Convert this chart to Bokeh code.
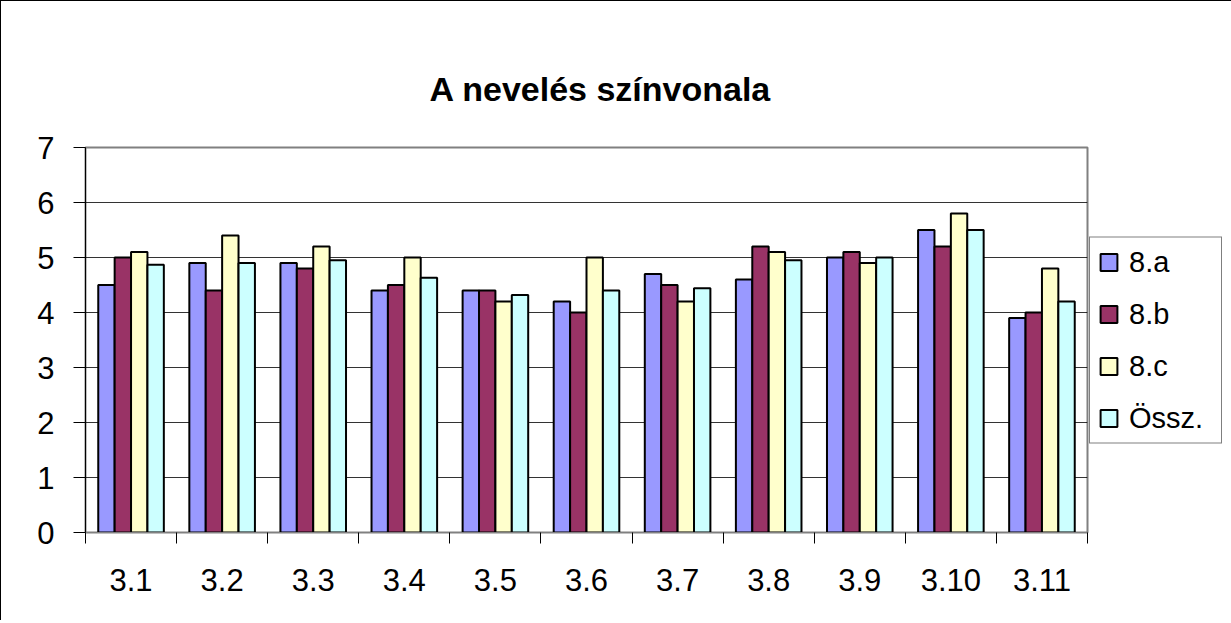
from bokeh.plotting import figure
from bokeh.models import (ColumnDataSource, FixedTicker, Legend, LegendItem, Range1d, Title)
from bokeh.embed import file_html
from bokeh.resources import INLINE

categories = ["3.1", "3.2", "3.3", "3.4", "3.5", "3.6", "3.7", "3.8", "3.9", "3.10", "3.11"]
series_names = ["8.a", "8.b", "8.c", "Össz."]
v_8a = [4.5, 4.9, 4.9, 4.4, 4.4, 4.2, 4.7, 4.6, 5.0, 5.5, 3.9]
v_8b = [5.0, 4.4, 4.8, 4.5, 4.4, 4.0, 4.5, 5.2, 5.1, 5.2, 4.0]
v_8c = [5.1, 5.4, 5.2, 5.0, 4.2, 5.0, 4.2, 5.1, 4.9, 5.8, 4.8]
v_ossz = [4.87, 4.9, 4.95, 4.63, 4.32, 4.4, 4.44, 4.95, 5.0, 5.5, 4.2]
y_ticks = [0, 1, 2, 3, 4, 5, 6, 7]

colors = ["#9999FF", "#993366", "#FFFFCC", "#CCFFFF"]
series = [v_8a, v_8b, v_8c, v_ossz]
FONT = "Liberation Sans"

n = len(categories)
centers = [i + 0.5 for i in range(n)]
bar_w = 0.18
offsets = [-1.5 * bar_w, -0.5 * bar_w, 0.5 * bar_w, 1.5 * bar_w]

p = figure(frame_width=1002, frame_height=385, output_backend="svg", toolbar_location=None,
           x_range=Range1d(0, n), y_range=Range1d(0, 7),
           min_border_left=84, min_border_right=0, min_border_top=146, min_border_bottom=88)
p.styles = {"border-left": "1px solid #000", "border-top": "1px solid #000"}

p.title = Title(text="A nevelés színvonala", align="left", offset=344, text_font=FONT,
                text_font_size="34px", text_font_style="bold", text_color="#000000",
                vertical_align="bottom", standoff=80)
# invisible spacer between the title and the plot area
p.add_layout(Title(text=".", text_font=FONT, text_font_size="20px", text_alpha=0,
                   standoff=0), "above")

items = []
for k, (name, vals, col) in enumerate(zip(series_names, series, colors)):
    src = ColumnDataSource(dict(x=[c + offsets[k] for c in centers], top=vals))
    r = p.vbar(x="x", top="top", width=bar_w, bottom=0, source=src,
               fill_color=col, line_color="#000000", line_width=2)
    items.append(LegendItem(label=name, renderers=[r]))

# axes
p.xaxis.ticker = FixedTicker(ticks=centers, minor_ticks=list(range(n + 1)))
p.xaxis.major_label_overrides = {c: lab for c, lab in zip(centers, categories)}
p.xaxis.major_tick_out = 0
p.xaxis.major_tick_in = 0
p.xaxis.minor_tick_out = 11
p.xaxis.minor_tick_in = 0
p.xaxis.minor_tick_line_color = "#000000"
p.xaxis.axis_line_color = "#808080"
p.xaxis.major_label_text_font = FONT
p.xaxis.major_label_text_font_size = "31px"
p.xaxis.major_label_text_color = "#000000"
p.xaxis.major_label_standoff = 25

p.yaxis.ticker = FixedTicker(ticks=y_ticks, minor_ticks=[])
p.yaxis.major_tick_out = 12
p.yaxis.major_tick_in = 0
p.yaxis.major_tick_line_color = "#000000"
p.yaxis.axis_line_color = "#000000"
p.yaxis.major_label_text_font = FONT
p.yaxis.major_label_text_font_size = "31px"
p.yaxis.major_label_text_color = "#000000"
p.yaxis.major_label_standoff = 19

p.xgrid.visible = False
p.ygrid.ticker = FixedTicker(ticks=y_ticks)
p.ygrid.grid_line_color = "#000000"
p.ygrid.grid_line_alpha = 0.8

p.outline_line_color = "#808080"
p.outline_line_width = 2

legend = Legend(items=items, location="center_left", orientation="vertical",
                label_text_font=FONT, label_text_font_size="29px",
                label_text_color="#000000",
                glyph_width=21, glyph_height=21, label_standoff=10,
                label_width=84, label_height=32,
                spacing=19, padding=8, margin=2,
                border_line_color="#000000", border_line_width=1,
                background_fill_color="#FFFFFF", background_fill_alpha=1)
p.add_layout(legend, "right")

open("out.html", "w").write(file_html(p, INLINE))
